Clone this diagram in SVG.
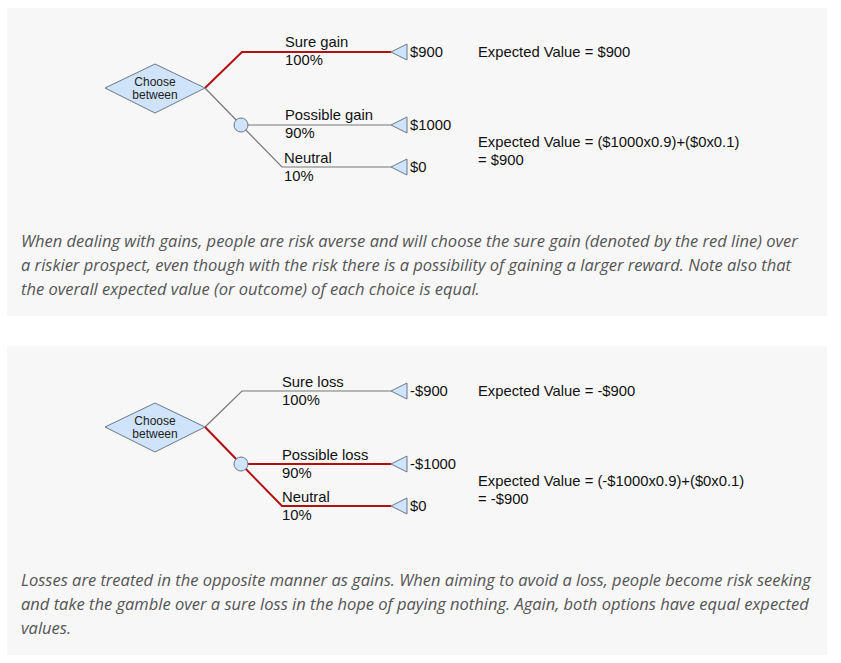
<svg xmlns="http://www.w3.org/2000/svg" width="841" height="663" viewBox="0 0 841 663">
<style>
.bg{fill:#f7f7f7}
.t{font-family:Arial,"Liberation Sans",sans-serif;font-size:14.8px;fill:#111}
.s{font-family:Arial,"Liberation Sans",sans-serif;font-size:12px;fill:#222;text-anchor:middle}
.c{font-family:"Open Sans",sans-serif;font-style:italic;font-size:16.5px;fill:#555}
.g{fill:none;stroke:#777;stroke-width:1.2}
.r{fill:none;stroke:#b30f0f;stroke-width:2}
.n{fill:#cfe3fb;stroke:#6a7889;stroke-width:1}
</style>
<rect width="841" height="663" fill="#fff"/>
<rect class="bg" x="7" y="8" width="820" height="308"/>
<rect class="bg" x="7" y="346" width="820" height="309"/>
<g id="connectors">
<polyline class="r" points="205,88 242,52 391,52"/>
<polyline class="g" points="205,88 241,125"/>
<polyline class="g" points="241,125 391,125"/>
<polyline class="g" points="241,125 282,167 391,167"/>
<polyline class="g" points="205,427 242,391 391,391"/>
<polyline class="r" points="205,427 241,464"/>
<polyline class="r" points="241,464 391,464"/>
<polyline class="r" points="241,464 282,506 391,506"/>
</g>
<g id="top-decision"><path class="n" d="M105,88 L155,64 L205,88 L155,113 Z"/><text class="s" x="155" y="86">Choose</text><text class="s" x="155" y="99">between</text></g>
<g id="top-chance"><circle class="n" cx="241" cy="125" r="7"/></g>
<g id="top-t1"><path class="n" d="M391,52 L407,44 L407,60 Z"/><text class="t" x="410" y="57">$900</text></g>
<g id="top-t2"><path class="n" d="M391,125 L407,117 L407,133 Z"/><text class="t" x="410" y="130">$1000</text></g>
<g id="top-t3"><path class="n" d="M391,167 L407,159 L407,175 Z"/><text class="t" x="410" y="172">$0</text></g>
<g id="top-labels">
<text class="t" x="285" y="47">Sure gain</text><text class="t" x="285" y="65">100%</text>
<text class="t" x="285" y="120">Possible gain</text><text class="t" x="285" y="138">90%</text>
<text class="t" x="284" y="163">Neutral</text><text class="t" x="284" y="181">10%</text>
<text class="t" x="478" y="57">Expected Value = $900</text>
<text class="t" x="478" y="147">Expected Value = ($1000x0.9)+($0x0.1)</text>
<text class="t" x="478" y="165">= $900</text>
</g>
<g id="top-caption">
<text class="c" x="21" y="247">When dealing with gains, people are risk averse and will choose the sure gain (denoted by the red line) over</text>
<text class="c" x="21" y="271">a riskier prospect, even though with the risk there is a possibility of gaining a larger reward. Note also that</text>
<text class="c" x="21" y="295">the overall expected value (or outcome) of each choice is equal.</text>
</g>
<g id="bot-decision"><path class="n" d="M105,427 L155,403 L205,427 L155,452 Z"/><text class="s" x="155" y="425">Choose</text><text class="s" x="155" y="438">between</text></g>
<g id="bot-chance"><circle class="n" cx="241" cy="464" r="7"/></g>
<g id="bot-t1"><path class="n" d="M391,391 L407,383 L407,399 Z"/><text class="t" x="410" y="396">-$900</text></g>
<g id="bot-t2"><path class="n" d="M391,464 L407,456 L407,472 Z"/><text class="t" x="410" y="469">-$1000</text></g>
<g id="bot-t3"><path class="n" d="M391,506 L407,498 L407,514 Z"/><text class="t" x="410" y="511">$0</text></g>
<g id="bot-labels">
<text class="t" x="282" y="387">Sure loss</text><text class="t" x="282" y="405">100%</text>
<text class="t" x="282" y="460">Possible loss</text><text class="t" x="282" y="478">90%</text>
<text class="t" x="282" y="502">Neutral</text><text class="t" x="282" y="520">10%</text>
<text class="t" x="478" y="396">Expected Value = -$900</text>
<text class="t" x="478" y="486">Expected Value = (-$1000x0.9)+($0x0.1)</text>
<text class="t" x="478" y="504">= -$900</text>
</g>
<g id="bot-caption">
<text class="c" x="21" y="586">Losses are treated in the opposite manner as gains. When aiming to avoid a loss, people become risk seeking</text>
<text class="c" x="21" y="610">and take the gamble over a sure loss in the hope of paying nothing. Again, both options have equal expected</text>
<text class="c" x="21" y="634">values.</text>
</g>
</svg>
